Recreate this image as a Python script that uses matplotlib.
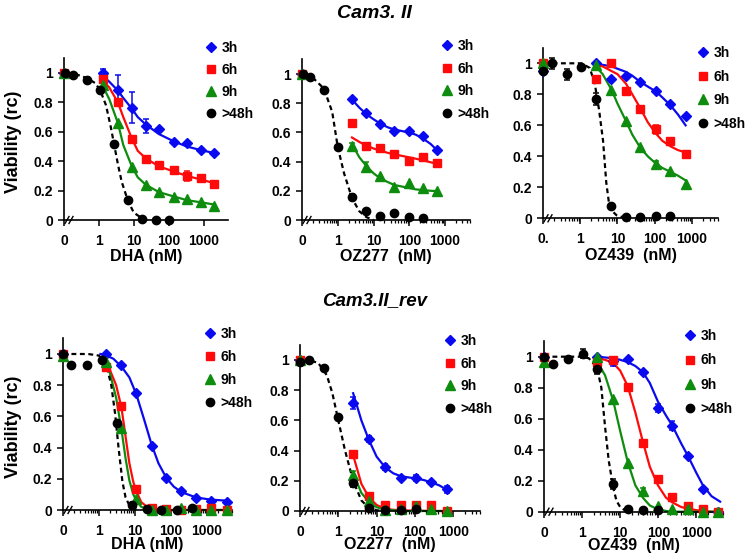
import matplotlib
matplotlib.use('Agg')
import matplotlib.pyplot as plt
from matplotlib.lines import Line2D
from matplotlib.ticker import NullFormatter

# ---- Cam3.II, DHA ----
dha1_x = [0.1, 1.3, 3.5, 8.6, 22, 52, 140, 330, 850, 2050]
dha1_xk = [0.105, 0.18, 0.46, 1.1, 2.75, 6.8, 17.5, 42, 102]
dha1_3h = [1.0, 1.0, 0.886, 0.765, 0.64, 0.616, 0.53, 0.525, 0.475, 0.457]
dha1_3h_err = [0, 0.03, 0.097, 0.108, 0.05, 0, 0, 0, 0, 0]
dha1_6h = [1.0, 0.959, 0.80, 0.55, 0.418, 0.372, 0.338, 0.30, 0.285, 0.247]
dha1_6h_err = [0, 0, 0, 0, 0, 0, 0, 0.035, 0, 0]
dha1_9h = [1.0, 0.92, 0.658, 0.36, 0.235, 0.19, 0.155, 0.144, 0.121, 0.098]
dha1_9h_err = [0] * 10
dha1_48h = [1.0, 0.989, 0.954, 0.881, 0.514, 0.137, 0.007, 0.0, 0.002]
dha1_48h_err = [0, 0, 0.02, 0, 0, 0, 0, 0, 0]
dha1_fx = [1.3, 2, 3.5, 5, 8.6, 13, 22, 52, 140, 330, 850, 2050]
dha1_f3 = [0.98, 0.94, 0.88, 0.83, 0.76, 0.70, 0.65, 0.585, 0.535, 0.50, 0.475, 0.455]
dha1_f6 = [0.95, 0.9, 0.80, 0.70, 0.56, 0.47, 0.42, 0.365, 0.33, 0.30, 0.275, 0.25]
dha1_f9 = [0.91, 0.82, 0.66, 0.51, 0.37, 0.29, 0.24, 0.19, 0.16, 0.135, 0.12, 0.105]
dha1_fxk = [0.12, 0.2, 0.46, 0.8, 1.1, 1.6, 2.2, 2.75, 3.5, 4.5, 6.8, 10, 17.5, 25]
dha1_fk = [1.0, 0.995, 0.965, 0.93, 0.88, 0.78, 0.63, 0.51, 0.38, 0.26, 0.13, 0.05, 0.01, 0.0]

# ---- Cam3.II, OZ277 ----
oz2771_x = [0.1, 2.5, 6.3, 15.5, 38, 96, 235, 615]
oz2771_xk = [0.105, 0.17, 0.41, 1.02, 2.5, 6.3, 15.5, 38, 96, 235]
oz2771_3h = [1.0, 0.826, 0.73, 0.658, 0.61, 0.61, 0.575, 0.48]
oz2771_3h_err = [0] * 8
oz2771_6h = [1.0, 0.667, 0.509, 0.495, 0.452, 0.404, 0.434, 0.388]
oz2771_6h_err = [0] * 8
oz2771_9h = [1.0, 0.507, 0.365, 0.30, 0.224, 0.256, 0.217, 0.20]
oz2771_9h_err = [0, 0.02, 0.03, 0, 0, 0, 0, 0]
oz2771_48h = [1.0, 0.977, 0.89, 0.498, 0.155, 0.062, 0.027, 0.046, 0.018, 0.011]
oz2771_48h_err = [0, 0, 0, 0, 0.02, 0, 0, 0, 0, 0]
oz2771_fx = [2.5, 4, 6.3, 10, 15.5, 25, 38, 60, 96, 150, 235, 400, 615]
oz2771_f3 = [0.825, 0.77, 0.725, 0.69, 0.66, 0.635, 0.62, 0.61, 0.60, 0.585, 0.56, 0.52, 0.475]
oz2771_f6 = [0.565, 0.535, 0.51, 0.49, 0.475, 0.46, 0.45, 0.44, 0.43, 0.42, 0.41, 0.395, 0.385]
oz2771_f9 = [0.52, 0.43, 0.37, 0.32, 0.285, 0.26, 0.24, 0.23, 0.22, 0.21, 0.205, 0.2, 0.198]
oz2771_fxk = [0.12, 0.2, 0.41, 0.7, 1.0, 1.5, 2.5, 4, 6.3, 10]
oz2771_fk = [1.0, 0.975, 0.9, 0.74, 0.5, 0.32, 0.15, 0.06, 0.02, 0.0]

# ---- Cam3.II, OZ439 ----
oz4391_x = [0.1, 2.6, 6.9, 16.7, 41, 105, 262, 673]
oz4391_xk = [0.1, 0.17, 0.44, 1.08, 2.6, 6.9, 16.7, 41, 105, 262]
oz4391_3h = [0.953, 1.0, 0.897, 0.918, 0.882, 0.824, 0.735, 0.66]
oz4391_3h_err = [0] * 8
oz4391_6h = [1.0, 0.897, 1.0, 0.824, 0.705, 0.574, 0.499, 0.413]
oz4391_6h_err = [0, 0, 0, 0, 0, 0.03, 0, 0]
oz4391_9h = [1.0, 0.989, 0.828, 0.63, 0.462, 0.35, 0.305, 0.222]
oz4391_9h_err = [0, 0, 0, 0, 0, 0.02, 0, 0]
oz4391_48h = [0.953, 1.0, 0.93, 0.978, 0.768, 0.08, 0.006, 0.006, 0.015, 0.015]
oz4391_48h_err = [0.02, 0.035, 0.035, 0, 0.04, 0, 0, 0, 0, 0]
oz4391_fx = [2.6, 4, 6.9, 10, 16.7, 25, 41, 65, 105, 160, 262, 420, 673]
oz4391_f3 = [0.995, 0.99, 0.98, 0.965, 0.945, 0.92, 0.88, 0.85, 0.82, 0.78, 0.73, 0.67, 0.60]
oz4391_f6 = [0.99, 0.98, 0.95, 0.93, 0.87, 0.8, 0.71, 0.62, 0.55, 0.5, 0.465, 0.44, 0.425]
oz4391_f9 = [0.98, 0.93, 0.83, 0.74, 0.63, 0.54, 0.455, 0.4, 0.355, 0.325, 0.3, 0.275, 0.245]
oz4391_fxk = [0.18, 1.08, 1.8, 2.45, 3.2, 4.1, 5.0, 5.9, 7, 9.4, 17]
oz4391_fk = [1.0, 1.0, 0.97, 0.87, 0.7, 0.5, 0.23, 0.1, 0.05, 0.02, 0.0]

# ---- Cam3.II_rev, DHA ----
dha2_x = [0.1, 1.6, 4.2, 11, 29, 75, 195, 510, 1330, 3650]
dha2_xk = [0.1, 0.17, 0.46, 1.2, 3.2, 8.3, 21, 54, 150, 390]
dha2_3h = [1.0, 1.0, 0.93, 0.748, 0.412, 0.203, 0.122, 0.075, 0.06, 0.049]
dha2_3h_err = [0] * 10
dha2_6h = [1.0, 0.915, 0.667, 0.135, 0.015, 0.004, 0.0, 0.004, 0.01, 0.0]
dha2_6h_err = [0] * 10
dha2_9h = [0.987, 0.95, 0.523, 0.07, 0.0, 0.0, 0.015, 0.0, 0.0, 0.0]
dha2_9h_err = [0] * 10
dha2_48h = [1.0, 0.93, 0.93, 0.962, 0.56, 0.03, 0.005, 0.0, 0.0, 0.015]
dha2_48h_err = [0] * 10
dha2_fx3 = [1.1, 1.6, 2.5, 4.2, 7, 11, 18, 29, 45, 75, 120, 195, 510, 1330, 3650]
dha2_f3 = [1.0, 0.99, 0.97, 0.92, 0.85, 0.74, 0.58, 0.42, 0.3, 0.205, 0.15, 0.115, 0.08, 0.066, 0.06]
dha2_fx = [1.2, 2, 3, 4.2, 5.5, 7, 9, 11, 15, 22, 40, 100, 3650]
dha2_f6 = [0.96, 0.9, 0.8, 0.66, 0.47, 0.3, 0.18, 0.12, 0.05, 0.02, 0.005, 0.0, 0.0]
dha2_f9 = [0.95, 0.88, 0.72, 0.52, 0.33, 0.19, 0.1, 0.06, 0.02, 0.008, 0.0, 0.0, 0.0]
dha2_fxk = [0.1, 0.5, 1.0, 1.6, 2.2, 2.8, 3.5, 4.5, 5.5, 7, 10, 13]
dha2_fk = [1.0, 1.0, 0.99, 0.93, 0.8, 0.62, 0.4, 0.18, 0.08, 0.03, 0.005, 0.0]

# ---- Cam3.II_rev, OZ277 ----
oz2772_x = [0.1, 2.44, 6.3, 16.6, 43, 107, 263, 690]
oz2772_xk = [0.1, 0.17, 0.43, 1.0, 2.44, 6.3, 16.6, 43, 107]
oz2772_3h = [1.0, 0.717, 0.475, 0.289, 0.216, 0.22, 0.194, 0.143]
oz2772_3h_err = [0, 0.04, 0.02, 0.02, 0, 0.02, 0, 0.025]
oz2772_6h = [1.0, 0.377, 0.1, 0.04, 0.04, 0.04, 0.04, 0.0]
oz2772_6h_err = [0] * 8
oz2772_9h = [1.0, 0.238, 0.068, 0.006, 0.01, 0.03, 0.01, 0.0]
oz2772_9h_err = [0, 0.03, 0, 0, 0, 0, 0, 0]
oz2772_48h = [0.99, 1.0, 0.95, 0.62, 0.188, 0.022, 0.007, 0.007, 0.011]
oz2772_48h_err = [0, 0, 0, 0, 0.03, 0, 0, 0, 0]
oz2772_fx = [2.44, 4, 6.3, 10, 16.6, 27, 43, 70, 107, 170, 263, 430, 690]
oz2772_f3 = [0.78, 0.6, 0.47, 0.36, 0.29, 0.25, 0.23, 0.222, 0.215, 0.205, 0.19, 0.17, 0.14]
oz2772_f6 = [0.37, 0.18, 0.09, 0.04, 0.015, 0.008, 0.005, 0.003, 0.002, 0.001, 0.0, 0.0, 0.0]
oz2772_f9 = [0.25, 0.12, 0.06, 0.025, 0.01, 0.005, 0.0, 0.0, 0.0, 0.0, 0.0, 0.0, 0.0]
oz2772_fxk = [0.12, 0.17, 0.3, 0.5, 0.7, 1.0, 1.5, 2.44, 4, 6.3, 10, 16]
oz2772_fk = [1.0, 1.0, 0.98, 0.9, 0.78, 0.6, 0.4, 0.2, 0.07, 0.02, 0.005, 0.0]

# ---- Cam3.II_rev, OZ439 ----
oz4392_x = [0.1, 2.46, 6.5, 15.8, 39.5, 98, 234, 600, 1490, 3700]
oz4392_xk = [0.1, 0.17, 0.43, 1.06, 2.46, 6.5, 15.8, 39.5, 98]
oz4392_3h = [1.0, 1.0, 0.97, 0.985, 0.903, 0.667, 0.555, 0.36, 0.144, 0.0]
oz4392_3h_err = [0, 0, 0.03, 0, 0, 0.025, 0.03, 0, 0, 0]
oz4392_6h = [1.0, 0.968, 0.978, 0.802, 0.445, 0.209, 0.092, 0.037, 0.015, 0.0]
oz4392_6h_err = [0, 0, 0.02, 0, 0, 0.02, 0, 0, 0, 0]
oz4392_9h = [0.968, 0.996, 0.727, 0.316, 0.135, 0.037, 0.015, 0.015, 0.0, 0.0]
oz4392_9h_err = [0.02, 0, 0, 0, 0.02, 0, 0, 0, 0, 0]
oz4392_48h = [1.0, 0.95, 0.985, 1.02, 0.918, 0.178, 0.015, 0.01, 0.01]
oz4392_48h_err = [0, 0, 0, 0.03, 0.03, 0.03, 0, 0, 0]
oz4392_fx = [2.46, 4, 6.5, 10, 15.8, 25, 39.5, 60, 98, 160, 234, 400, 600, 1000, 1490, 2500, 4200]
oz4392_f3 = [1.0, 0.995, 0.99, 0.98, 0.965, 0.94, 0.9, 0.83, 0.71, 0.62, 0.555, 0.44, 0.36, 0.25, 0.17, 0.1, 0.065]
oz4392_f6 = [0.99, 0.98, 0.96, 0.91, 0.81, 0.64, 0.45, 0.29, 0.17, 0.09, 0.06, 0.03, 0.02, 0.01, 0.005, 0.0, 0.0]
oz4392_f9 = [0.97, 0.88, 0.72, 0.52, 0.32, 0.17, 0.09, 0.04, 0.015, 0.005, 0.0, 0.0, 0.0, 0.0, 0.0, 0.0, 0.0]
oz4392_fxk = [0.1, 1.0, 1.5, 2.46, 3.2, 4, 5, 6.5, 8, 10, 15]
oz4392_fk = [1.0, 1.0, 0.99, 0.93, 0.8, 0.55, 0.33, 0.16, 0.07, 0.03, 0.0]

series_labels = ['3h', '6h', '9h', '>48h']
x_tick_vals = [0.1, 1, 10, 100, 1000]
y_tick_vals = [0, 0.2, 0.4, 0.6, 0.8, 1]
y_tick_labels = ['0', '0.2', '0.4', '0.6', '0.8', '1']

plt.rcParams['font.family'] = ['Liberation Sans', 'DejaVu Sans']
plt.rcParams['font.weight'] = 'bold'

W, H = 750, 556
fig = plt.figure(figsize=(W / 100, H / 100), dpi=100)

colors = ['#0a0af0', '#ff0a0a', '#0e8c0e', 'black']
markers = [('D', 5.3), ('s', 5.6), ('^', 6.6), ('o', 6.0)]


def draw_panel(geo, xs, xk, ys, errs, fits, fitk, xlabel, zero_label, ylabel, legend_pos, xlab_off):
    x0, x1, ybot, unit = geo
    ytop = ybot - 1.1 * unit
    ax = fig.add_axes([x0 / W, 1 - ybot / H, (x1 - x0) / W, (ybot - ytop) / H])
    ax.set_xscale('log')
    ax.set_xlim(0.1, 5000)
    ax.set_ylim(0, 1.1)

    # fitted curves
    for i in range(3):
        fx, fy = fits[i]
        ax.plot(fx, fy, color=colors[i], lw=1.6, zorder=2, clip_on=False)
    ax.plot(fitk[0], fitk[1], color='black', lw=1.6, dashes=(2.2, 1.6), zorder=2, clip_on=False)

    # data points with error bars
    for i in range(4):
        x = xk if i == 3 else xs
        y = ys[i]
        e = errs[i]
        ex = [a for a, b in zip(x, e) if b > 0]
        ey = [a for a, b in zip(y, e) if b > 0]
        ee = [b for b in e if b > 0]
        if ee:
            ax.errorbar(ex, ey, yerr=ee, fmt='none', ecolor=colors[i], elinewidth=1.1,
                        capsize=2.5, capthick=1.1, zorder=3, clip_on=False)
        m, ms = markers[i]
        ax.plot(x, y, ls='none', marker=m, ms=ms, color=colors[i], zorder=4, clip_on=False)

    for s in ['top', 'right']:
        ax.spines[s].set_visible(False)
    for s in ['left', 'bottom']:
        ax.spines[s].set_linewidth(1.2)

    ax.set_xticks(x_tick_vals)
    ax.set_xticklabels([zero_label, '1', '10', '100', '1000'])
    ax.xaxis.set_minor_formatter(NullFormatter())
    ax.set_yticks(y_tick_vals)
    ax.set_yticklabels(y_tick_labels)
    ax.tick_params(axis='x', which='major', length=4, width=1.1, pad=6, labelsize=10)
    ax.tick_params(axis='x', which='minor', length=2.5, width=0.9)
    ax.tick_params(axis='y', length=4, width=1.1, pad=4, labelsize=10)

    # axis break marks
    w = x1 - x0
    h = ybot - ytop
    for cx in (3, 7):
        ax.plot([(cx - 2) / w, (cx + 2) / w], [-3.5 / h, 3.5 / h], color='black', lw=1.0,
                transform=ax.transAxes, clip_on=False, zorder=5)

    ax.set_xlabel(xlabel, fontsize=11.5, fontweight='bold')
    ax.xaxis.set_label_coords(0.5, -xlab_off / h)
    ax.xaxis.label.set_va('center')
    if ylabel:
        ax.set_ylabel('Viability (rc)', fontsize=13, fontweight='bold')
        ax.yaxis.set_label_coords(-50 / w, 0.5 * 1.0 / 1.1 + 0.03)
        ax.yaxis.label.set_va('center')

    lx, ly, ls = legend_pos
    handles = [Line2D([], [], ls='none', marker=markers[i][0], ms=markers[i][1], color=colors[i])
               for i in range(4)]
    fig.legend(handles, series_labels, loc='upper left',
               bbox_to_anchor=((lx - 5.6) / W, 1 - (ly - 6) / H),
               frameon=False, borderpad=0, borderaxespad=0, handlelength=0.8,
               handletextpad=0.35, labelspacing=ls,
               prop={'weight': 'bold', 'size': 10})
    return ax


draw_panel((64, 228, 220, 147), dha1_x, dha1_xk,
           [dha1_3h, dha1_6h, dha1_9h, dha1_48h],
           [dha1_3h_err, dha1_6h_err, dha1_9h_err, dha1_48h_err],
           [(dha1_fx, dha1_f3), (dha1_fx, dha1_f6), (dha1_fx, dha1_f9)],
           (dha1_fxk, dha1_fk), 'DHA (nM)', '0', True, (211, 47, 0.57), 37)

draw_panel((302, 470, 220, 146), oz2771_x, oz2771_xk,
           [oz2771_3h, oz2771_6h, oz2771_9h, oz2771_48h],
           [oz2771_3h_err, oz2771_6h_err, oz2771_9h_err, oz2771_48h_err],
           [(oz2771_fx, oz2771_f3), (oz2771_fx, oz2771_f6), (oz2771_fx, oz2771_f9)],
           (oz2771_fxk, oz2771_fk), 'OZ277  (nM)', '0', False, (447, 45, 0.62), 37)

draw_panel((543, 718, 218.3, 155), oz4391_x, oz4391_xk,
           [oz4391_3h, oz4391_6h, oz4391_9h, oz4391_48h],
           [oz4391_3h_err, oz4391_6h_err, oz4391_9h_err, oz4391_48h_err],
           [(oz4391_fx, oz4391_f3), (oz4391_fx, oz4391_f6), (oz4391_fx, oz4391_f9)],
           (oz4391_fxk, oz4391_fk), 'OZ439  (nM)', '0.', False, (703, 52, 0.69), 37)

draw_panel((63, 232, 510, 156), dha2_x, dha2_xk,
           [dha2_3h, dha2_6h, dha2_9h, dha2_48h],
           [dha2_3h_err, dha2_6h_err, dha2_9h_err, dha2_48h_err],
           [(dha2_fx3, dha2_f3), (dha2_fx, dha2_f6), (dha2_fx, dha2_f9)],
           (dha2_fxk, dha2_fk), 'DHA (nM)', '0', True, (210, 333, 0.65), 34)

draw_panel((300, 480, 511, 151), oz2772_x, oz2772_xk,
           [oz2772_3h, oz2772_6h, oz2772_9h, oz2772_48h],
           [oz2772_3h_err, oz2772_6h_err, oz2772_9h_err, oz2772_48h_err],
           [(oz2772_fx, oz2772_f3), (oz2772_fx, oz2772_f6), (oz2772_fx, oz2772_f9)],
           (oz2772_fxk, oz2772_fk), 'OZ277  (nM)', '0', False, (450, 340, 0.62), 34)

draw_panel((544, 723, 511.7, 155), oz4392_x, oz4392_xk,
           [oz4392_3h, oz4392_6h, oz4392_9h, oz4392_48h],
           [oz4392_3h_err, oz4392_6h_err, oz4392_9h_err, oz4392_48h_err],
           [(oz4392_fx, oz4392_f3), (oz4392_fx, oz4392_f6), (oz4392_fx, oz4392_f9)],
           (oz4392_fxk, oz4392_fk), 'OZ439  (nM)', '0', False, (690, 335, 0.75), 34)

fig.text(374 / W, 1 - 13 / H, 'Cam3. II', ha='center', va='center', fontsize=14,
         fontweight='bold', fontstyle='italic')
fig.text(375 / W, 1 - 301 / H, 'Cam3.II_rev', ha='center', va='center', fontsize=13.5,
         fontweight='bold', fontstyle='italic')

fig.savefig('out.png', dpi=100)
